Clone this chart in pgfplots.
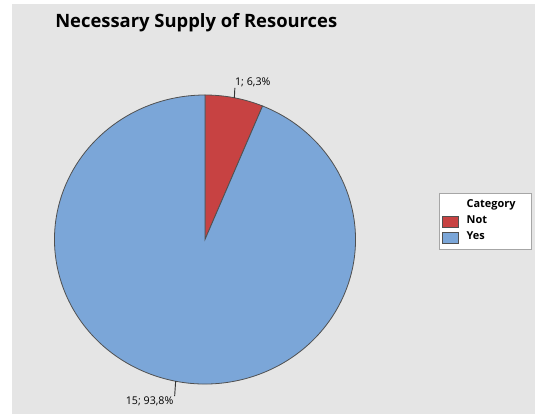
\documentclass[border=0pt]{standalone}
\usepackage{pgfplots}
\pgfplotsset{compat=1.18}
\usepackage{pgfplotstable}
\usepackage{fontspec}
\setmainfont{Open Sans}
\definecolor{bg}{RGB}{229,229,229}
\definecolor{slicered}{RGB}{199,66,66}
\definecolor{sliceblue}{RGB}{123,166,216}
\definecolor{edge}{RGB}{80,80,80}

\pgfplotstableread{
category count
Not 1
Yes 15
}\piedata

\begin{document}
\begin{tikzpicture}
\pgfplotstablegetelem{0}{count}\of\piedata \let\vNot\pgfplotsretval
\pgfplotstablegetelem{1}{count}\of\piedata \let\vYes\pgfplotsretval
\pgfmathsetmacro{\total}{\vNot+\vYes}
\pgfmathsetmacro{\aNot}{360*\vNot/\total}
\pgfmathsetmacro{\aYes}{360*\vYes/\total}
\pgfmathsetmacro{\pNot}{100*\vNot/\total}
\pgfmathsetmacro{\pYes}{100*\vYes/\total}
% start at 90 degrees, clockwise
\pgfmathsetmacro{\sA}{90}
\pgfmathsetmacro{\eA}{90-\aNot}
\pgfmathsetmacro{\eB}{\eA-\aYes}
\def\cx{205}\def\cy{178.5}\def\rx{150.5}\def\ry{144.5}
\begin{axis}[
  scale only axis, width=410.25pt, height=313.5pt,
  xmin=0, xmax=547, ymin=0, ymax=418,
  hide axis, clip=false,
  /pgf/number format/assume math mode=true,
  legend cell align=left,
  legend image code/.code={\draw[#1,draw=edge,line width=0.6pt] (0pt,-4.1pt) rectangle (12pt,4.1pt);},
  legend style={at={(439/547,1-193/418)}, anchor=north west,
    draw=gray!70, line width=0.8pt, fill=white,
    font=\fontsize{8.2}{9}\selectfont\bfseries,
    inner xsep=1.75pt, inner ysep=3pt, row sep=0pt,
    nodes={inner sep=2pt, text height=5.8pt, text depth=2.2pt},
    /tikz/every odd column/.append style={column sep=4pt},
    text width=45pt},
]
\fill[white] (axis cs:0,0) rectangle (axis cs:547,418);
\fill[bg] (axis cs:12,4) rectangle (axis cs:535,414);
% slices
\filldraw[fill=slicered, draw=edge, line width=0.6pt]
  (axis cs:\cx,\cy) -- (axis cs:{\cx+\rx*cos(\sA)},{\cy+\ry*sin(\sA)})
  arc[start angle=\sA, end angle=\eA, x radius=\rx, y radius=\ry] -- cycle;
\filldraw[fill=sliceblue, draw=edge, line width=0.6pt]
  (axis cs:\cx,\cy) -- (axis cs:{\cx+\rx*cos(\eA)},{\cy+\ry*sin(\eA)})
  arc[start angle=\eA, end angle=\eB, x radius=\rx, y radius=\ry] -- cycle;
% labels
\pgfmathsetmacro{\mA}{(\sA+\eA)/2}
\pgfmathsetmacro{\mB}{(\eA+\eB)/2}
\draw[black!80, line width=0.7pt] (axis cs:{\cx+\rx*cos(\mA)},{\cy+\ry*sin(\mA)}) -- (axis cs:{\cx+\rx*cos(\mA)+0.5},{\cy+\ry*sin(\mA)+10});
\node[anchor=south west, inner sep=0pt, font=\fontsize{8}{9}\selectfont]
  at (axis cs:{\cx+\rx*cos(\mA)+0.5},{\cy+\ry*sin(\mA)+11}) {\pgfmathprintnumber[fixed,precision=0]{\vNot}; \pgfmathprintnumber[fixed,precision=1,use comma,fixed zerofill]{\pNot}\%};
\draw[black!80, line width=0.7pt] (axis cs:{\cx+\rx*cos(\mB)},{\cy+\ry*sin(\mB)}) -- (axis cs:{\cx+\rx*cos(\mB)-1},{\cy+\ry*sin(\mB)-15});
\node[anchor=east, inner sep=0pt, font=\fontsize{8}{9}\selectfont]
  at (axis cs:{\cx+\rx*cos(\mB)-2},{\cy+\ry*sin(\mB)-20}) {\pgfmathprintnumber[fixed,precision=0]{\vYes}; \pgfmathprintnumber[fixed,precision=1,use comma,fixed zerofill]{\pYes}\%};
% title
\node[anchor=base west, inner sep=0pt, font=\fontsize{13.8}{16}\selectfont\bfseries]
  at (axis cs:55,390) {Necessary Supply of Resources};
% legend
\addlegendimage{empty legend}
\addlegendentry{Category}
\addlegendimage{fill=slicered}
\addlegendentry{Not}
\addlegendimage{fill=sliceblue}
\addlegendentry{Yes}
\end{axis}
\end{tikzpicture}
\end{document}
